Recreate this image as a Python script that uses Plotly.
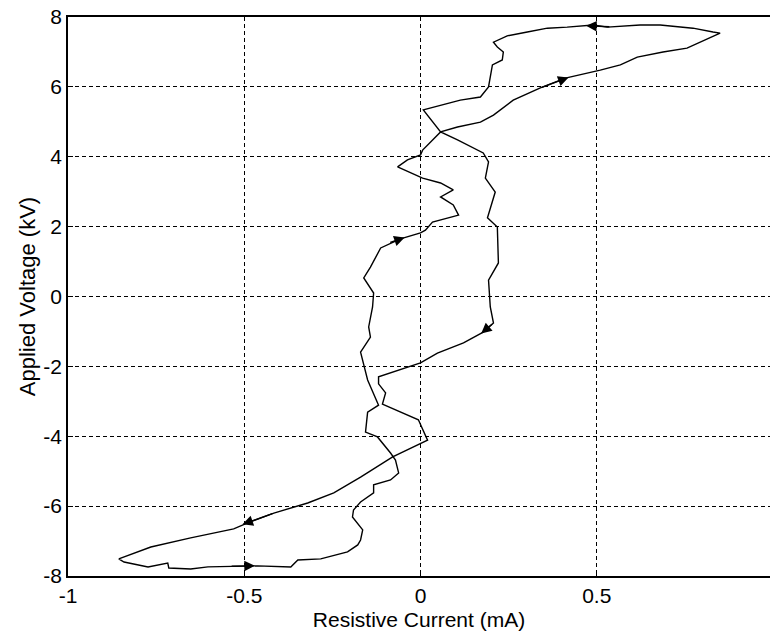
import plotly.graph_objects as go

# Resistive current (mA) and applied voltage (kV)
current = [-0.856, -0.841, -0.773, -0.717, -0.714, -0.652, -0.603, -0.501, -0.462, -0.368,
           -0.348, -0.283, -0.207, -0.178, -0.170, -0.164, -0.193, -0.190, -0.170, -0.133,
           -0.133, -0.085, -0.062, -0.071, -0.085, -0.122, -0.156, -0.150, -0.119, -0.150,
           -0.170, -0.142, -0.147, -0.136, -0.133, -0.161, -0.142, -0.113, -0.085, -0.057,
           0.000, 0.014, 0.034, 0.108, 0.093, 0.057, 0.093, 0.057, 0.006, -0.065,
           -0.037, 0.000, 0.006, 0.057, 0.105, 0.170, 0.207, 0.263, 0.340, 0.411,
           0.510, 0.567, 0.615, 0.688, 0.756, 0.793, 0.850,
           0.830, 0.773, 0.680, 0.623, 0.530, 0.490, 0.416, 0.360, 0.303, 0.246,
           0.207, 0.218, 0.235, 0.232, 0.204, 0.198, 0.193, 0.170, 0.113, 0.008,
           0.057, 0.105, 0.178, 0.193, 0.184, 0.212, 0.198, 0.190, 0.218, 0.221,
           0.193, 0.198, 0.207, 0.178, 0.122, 0.048, 0.000, -0.119, -0.119, -0.099,
           -0.108, -0.006, 0.020, -0.079, -0.170, -0.246, -0.320, -0.416, -0.490, -0.530,
           -0.652, -0.765, -0.856]
voltage = [-7.51, -7.60, -7.74, -7.63, -7.77, -7.80, -7.74, -7.71, -7.71, -7.74,
           -7.54, -7.51, -7.31, -7.11, -6.97, -6.68, -6.31, -6.11, -5.88, -5.62,
           -5.39, -5.25, -5.05, -4.68, -4.48, -4.02, -3.88, -3.31, -3.11, -2.39,
           -1.59, -1.16, -0.87, -0.30, 0.10, 0.53, 0.84, 1.39, 1.53, 1.65,
           1.82, 1.90, 2.13, 2.33, 2.62, 2.85, 3.05, 3.25, 3.39, 3.71,
           3.91, 4.05, 4.19, 4.71, 4.85, 4.99, 5.19, 5.62, 5.97, 6.25,
           6.48, 6.63, 6.85, 7.00, 7.11, 7.28, 7.54,
           7.57, 7.68, 7.77, 7.77, 7.71, 7.77, 7.71, 7.68, 7.57, 7.46,
           7.28, 7.14, 7.00, 6.77, 6.63, 6.28, 6.00, 5.71, 5.62, 5.34,
           4.71, 4.48, 4.11, 3.85, 3.39, 2.99, 2.56, 2.25, 1.99, 0.96,
           0.47, -0.30, -0.76, -1.02, -1.33, -1.62, -1.90, -2.30, -2.50, -2.76,
           -3.08, -3.53, -4.11, -4.59, -5.17, -5.62, -5.91, -6.20, -6.48, -6.65,
           -6.91, -7.17, -7.51]

# Direction arrows: head and tail positions (mA, kV)
arrow_head_x = [0.470, 0.420, -0.045, 0.172, -0.505, -0.470]
arrow_head_y = [7.75, 6.27, 1.69, -1.06, -6.52, -7.71]
arrow_tail_x = [0.540, 0.340, -0.090, 0.207, -0.416, -0.540]
arrow_tail_y = [7.72, 5.97, 1.53, -0.76, -6.20, -7.72]

x_ticks = [-1, -0.5, 0, 0.5]
x_tick_text = ["-1", "-0.5", "0", "0.5"]
y_ticks = [-8, -6, -4, -2, 0, 2, 4, 6, 8]
y_tick_text = ["-8", "-6", "-4", "-2", "0", "2", "4", "6", "8"]

font_family = "Arial, Liberation Sans, sans-serif"

fig = go.Figure()
fig.add_trace(go.Scatter(x=current, y=voltage, mode="lines",
                         line=dict(color="black", width=1.4),
                         showlegend=False, hoverinfo="skip"))

for hx, hy, tx, ty in zip(arrow_head_x, arrow_head_y, arrow_tail_x, arrow_tail_y):
    fig.add_annotation(x=hx, y=hy, ax=tx, ay=ty, xref="x", yref="y",
                       axref="x", ayref="y", text="", showarrow=True,
                       arrowhead=2, arrowsize=1.5, arrowwidth=1.4,
                       arrowcolor="black", standoff=0, startstandoff=0)

axis_common = dict(
    showgrid=True, gridcolor="black", gridwidth=1.2, griddash="4px,3px",
    showline=True, linecolor="black", linewidth=1.6,
    ticks="inside", ticklen=5, tickcolor="black", tickwidth=1,
    zeroline=False,
    tickfont=dict(family=font_family, size=21, color="black"),
)

fig.update_layout(
    width=770, height=637,
    margin=dict(l=68, r=0, t=17, b=61),
    paper_bgcolor="white", plot_bgcolor="white",
    font=dict(family=font_family, size=21, color="black"),
    xaxis=dict(range=[-1, 0.9915], tickvals=x_ticks, ticktext=x_tick_text,
               mirror=True,
               title=dict(text="Resistive Current (mA)", standoff=6,
                          font=dict(family=font_family, size=21, color="black")),
               **axis_common),
    yaxis=dict(range=[-8, 8], tickvals=y_ticks, ticktext=y_tick_text, mirror=False,
               title=dict(text="Applied Voltage (kV)", standoff=2,
                          font=dict(family=font_family, size=22, color="black")),
               **axis_common),
)

fig.write_html("out.html")
